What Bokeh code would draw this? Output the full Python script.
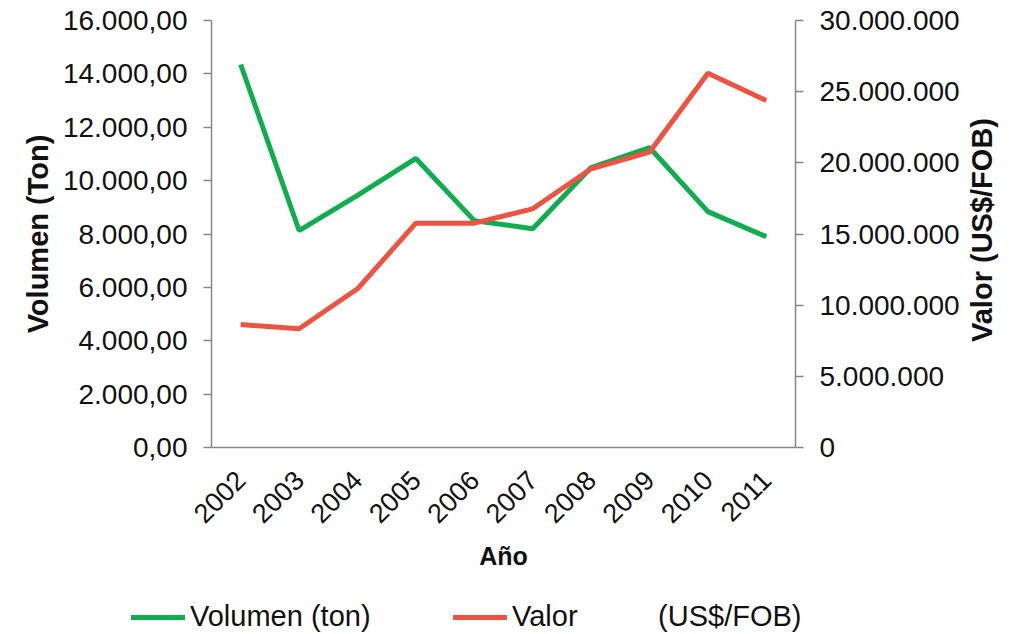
import math
from bokeh.plotting import figure
from bokeh.layouts import column, row
from bokeh.models import (Range1d, FactorRange, LinearAxis, SingleIntervalTicker,
                          CustomJSTickFormatter, Div)
from bokeh.embed import file_html
from bokeh.resources import INLINE

years = ["2002", "2003", "2004", "2005", "2006", "2007", "2008", "2009", "2010", "2011"]
volumen = [14350, 8130, 9450, 10830, 8500, 8200, 10490, 11240, 8840, 7900]
valor = [8640000, 8340000, 11150000, 15760000, 15760000, 16770000, 19580000, 20750000, 26300000, 24380000]
legend_labels = ["Volumen (ton)", "Valor          (US$/FOB)"]
right_title = "Valor (US$/FOB)"

FONT = "Liberation Sans"
GREEN = "#0FAD4E"
RED = "#EE5341"
AXIS = "#868686"
TXT = "#111111"
W = 1015
TW = 50          # width of the right-hand title strip
PW = W - TW      # width of the plot

p = figure(width=PW, height=592, x_range=FactorRange(*years), y_range=Range1d(0, 16000),
           output_backend="svg", toolbar_location=None,
           min_border_left=211, min_border_right=PW - 795, min_border_top=20, min_border_bottom=145)
p.outline_line_color = None
p.xgrid.visible = False
p.ygrid.visible = False
p.extra_y_ranges = {"valor": Range1d(0, 30000000)}

g = p.line(years, volumen, line_color=GREEN, line_width=5)
r = p.line(years, valor, line_color=RED, line_width=5, y_range_name="valor")

# left axis
ya = p.yaxis[0]
ya.ticker = SingleIntervalTicker(interval=2000)
ya.formatter = CustomJSTickFormatter(code="""
var s = Math.round(tick).toString().replace(/\\B(?=(\\d{3})+(?!\\d))/g, '.');
return s + ',00';""")
ya.axis_label = "Volumen (Ton)"

# right axis (ticks and labels)
ra = LinearAxis(y_range_name="valor")
ra.ticker = SingleIntervalTicker(interval=5000000)
ra.formatter = CustomJSTickFormatter(code="""
return Math.round(tick).toString().replace(/\\B(?=(\\d{3})+(?!\\d))/g, '.');""")
p.add_layout(ra, "right")

for ax in (ya, ra):
    ax.axis_line_color = AXIS
    ax.axis_line_width = 1.5
    ax.major_tick_line_color = AXIS
    ax.major_tick_line_width = 1.5
    ax.major_tick_out = 8
    ax.major_tick_in = 0
    ax.minor_tick_line_color = None
    ax.major_label_text_font = FONT
    ax.major_label_text_font_size = "28px"
    ax.major_label_text_color = TXT
    ax.major_label_standoff = 16

ya.axis_label_text_font = FONT
ya.axis_label_text_font_size = "29px"
ya.axis_label_text_font_style = "bold"
ya.axis_label_text_color = TXT
ya.axis_label_standoff = 6

xa = p.xaxis[0]
xa.axis_label = "Año"
xa.axis_line_color = AXIS
xa.axis_line_width = 1.5
xa.major_tick_line_color = None
xa.minor_tick_line_color = None
xa.major_label_orientation = math.pi / 4
xa.major_label_text_font = FONT
xa.major_label_text_font_size = "27px"
xa.major_label_text_color = TXT
xa.axis_label_text_font = FONT
xa.axis_label_text_font_size = "25px"
xa.axis_label_text_font_style = "bold"
xa.axis_label_text_color = TXT
xa.major_label_standoff = 22
xa.axis_label_standoff = 8

# right-hand axis title, reading bottom-to-top
title_html = f"""
<div style="position:relative;width:{TW}px;height:592px;">
  <div style="position:absolute;left:{982 - PW}px;top:230px;transform:translate(-50%,-50%) rotate(-90deg);
       white-space:nowrap;font-family:'{FONT}';font-size:29px;font-weight:bold;color:{TXT};line-height:32px;">{right_title}</div>
</div>"""
tdiv = Div(text=title_html, width=TW, height=592, margin=0)

# legend strip
legend_html = f"""
<div style="position:relative;width:{W}px;height:40px;font-family:'{FONT}';font-size:29px;color:{TXT};">
  <span style="position:absolute;left:131px;top:23px;width:54px;height:5px;background:{GREEN};"></span>
  <span style="position:absolute;left:190px;top:10px;line-height:29px;white-space:pre;">{legend_labels[0]}</span>
  <span style="position:absolute;left:453px;top:23px;width:54px;height:5px;background:{RED};"></span>
  <span style="position:absolute;left:512px;top:10px;line-height:29px;white-space:pre;">{legend_labels[1]}</span>
</div>"""
leg = Div(text=legend_html, width=W, height=40, margin=0)

layout = column(row(p, tdiv, spacing=0), leg, spacing=0)
open("out.html", "w").write(file_html(layout, INLINE))
